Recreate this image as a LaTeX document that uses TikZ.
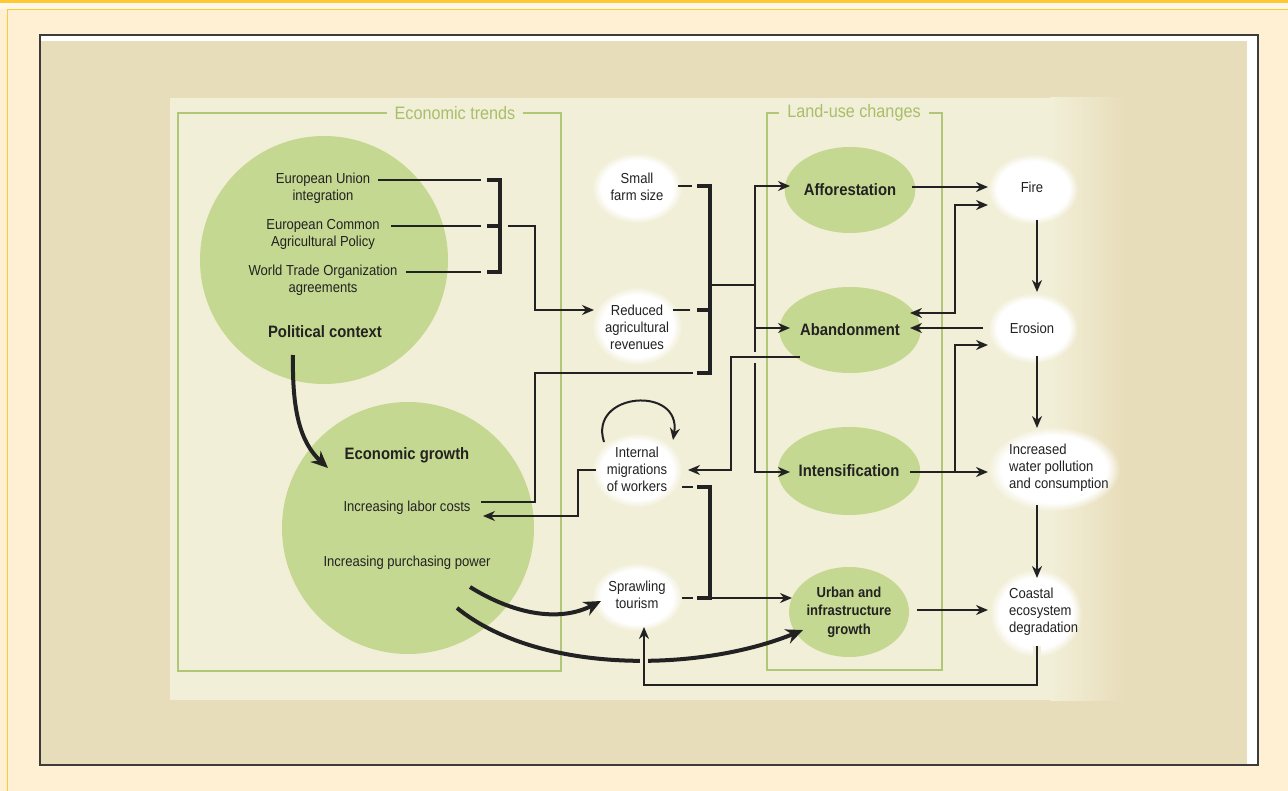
\documentclass[tikz,border=0pt]{standalone}
\usepackage{fontspec}
\setmainfont{Liberation Sans}[FakeStretch=0.9]
\usetikzlibrary{arrows.meta,shapes.geometric,fadings}
\definecolor{barY}{HTML}{FFC933}
\definecolor{panel}{HTML}{FFF0D3}
\definecolor{panelhi}{HTML}{FFF8EA}
\definecolor{tanbg}{HTML}{E8DDBA}
\definecolor{innerbg}{HTML}{F2EFD8}
\definecolor{gfill}{HTML}{C5D891}
\definecolor{gline}{HTML}{B2C678}
\definecolor{ghdr}{HTML}{A8BE69}
\definecolor{ink}{HTML}{222222}
\definecolor{frameC}{HTML}{3C3C3C}
\begin{document}
\begin{tikzpicture}[x=1pt,y=-1pt,
  txt/.style={font=\fontsize{14.5}{17}\selectfont, text=ink, align=center, inner sep=0pt},
  txtl/.style={txt, align=left},
  bld/.style={font=\bfseries\fontsize{16.5}{18.5}\selectfont, text=ink, align=center, inner sep=0pt},
  bldsm/.style={font=\bfseries\fontsize{14.5}{18.5}\selectfont, text=ink, align=center, inner sep=0pt},
  gcirc/.style={circle, fill=gfill, inner sep=0pt},
  gell/.style={ellipse, fill=gfill, inner sep=0pt, minimum width=114pt, minimum height=86pt},
  hdr/.style={font=\fontsize{18}{20}\selectfont, text=ghdr, fill=innerbg, inner xsep=8pt, inner ysep=2pt},
  gbox/.style={draw=gline, line width=1.5pt},
  blob/.style={ellipse, fill=white, path fading=circle with fuzzy edge 20 percent, inner sep=0pt},
  ln/.style={draw=ink, line width=2pt},
  arr/.style={ln, -{Stealth[length=12pt,width=10pt]}},
  darr/.style={ln, {Stealth[length=12pt,width=10pt]}-{Stealth[length=12pt,width=10pt]}},
  brk/.style={draw=ink, line width=4.5pt},
  bigarr/.style={draw=ink, line width=4pt, -{Stealth[length=17pt,width=15pt]}},
]
\useasboundingbox (0,0) rectangle (1288,791);
% page background
\fill[panel] (0,0) rectangle (1288,791);
\fill[panelhi] (0,3.5) rectangle (1288,9);
\fill[barY] (0,0) rectangle (1288,3.5);
\draw[barY, line width=1.3pt] (7.5,791) -- (7.5,9.5) -- (1288,9.5);
% frame
\fill[white] (40,35) rectangle (1258,765);
\fill[tanbg] (41,41) rectangle (1247,764);
\draw[frameC, line width=1.6pt] (40,35) rectangle (1258,765);
% inner diagram panel
\fill[innerbg] (170,98) rectangle (1050,700);
\shade[left color=innerbg, right color=tanbg] (1050,98) rectangle (1125,700);

% green circles
\node[gcirc, minimum size=248pt] (pcC) at (324,260) {};
\node[gcirc, minimum size=252pt] (egC) at (408,528) {};

% group boxes
\draw[gbox] (178,113) rectangle (561,671);
\node[hdr] (et) at (455,113) {Economic trends};
\draw[gbox] (767,113) rectangle (942,670);
\node[hdr] (lu) at (854,113) {Land-use changes};

% land-use ellipses
\node[gell, bld] (aff) at (850,190) {Afforestation};
\node[gell, bld] (aban) at (850,330) {Abandonment};
\node[gell, bld, minimum width=110pt, minimum height=88pt] (inten) at (849,471) {Intensification};
\node[gell, bldsm, minimum width=110pt, minimum height=90pt] (urb) at (849,612) {Urban and\\infrastructure\\growth};

% white blobs
\node[blob, minimum width=90pt, minimum height=70pt] (smallB) at (637,188) {};
\node[blob, minimum width=90pt, minimum height=78pt] (redB) at (637,326) {};
\node[blob, minimum width=90pt, minimum height=74pt] (migB) at (637,470) {};
\node[blob, minimum width=90pt, minimum height=68pt] (sprB) at (637,597) {};
\node[blob, minimum width=90pt, minimum height=70pt] (fireB) at (1033,189) {};
\node[blob, minimum width=90pt, minimum height=70pt] (eroB) at (1033,328) {};
\node[blob, minimum width=132pt, minimum height=84pt] (watB) at (1054,469) {};
\node[blob, minimum width=92pt, minimum height=88pt] (coaB) at (1036,613) {};

% texts
\node[txt] (eu) at (323,188) {European Union\\integration};
\node[txt] (cap) at (323,234) {European Common\\Agricultural Policy};
\node[txt] (wto) at (323,280) {World Trade Organization\\agreements};
\node[bld] (pc) at (325,332) {Political context};
\node[bld] (eg) at (407,455) {Economic growth};
\node[txt] (labor) at (407,508) {Increasing labor costs};
\node[txt] (purch) at (407,563) {Increasing purchasing power};
\node[txt] (small) at (637,187) {Small\\farm size};
\node[txt] (red) at (637,327) {Reduced\\agricultural\\revenues};
\node[txt] (mig) at (637,469) {Internal\\migrations\\of workers};
\node[txt] (spr) at (637,595) {Sprawling\\tourism};
\node[txt] (fire) at (1032,187) {Fire};
\node[txt] (ero) at (1032,328) {Erosion};
\node[txtl, anchor=west] (wat) at (1009,468) {Increased\\water pollution\\and consumption};
\node[txtl, anchor=west] (coa) at (1009,612) {Coastal\\ecosystem\\degradation};

% connector end points
\coordinate (euE) at (378,180);
\coordinate (capE) at (391,226);
\coordinate (wtoE) at (406,272);
\coordinate (br1out) at (508,226);
\coordinate (redIn) at (594,310);
\coordinate (smallE) at (678,186);
\coordinate (redE) at (673,310);
\coordinate (laborE) at (481,502);
\coordinate (br2out) at (710,285);
\coordinate (trunk) at (755,285);
\coordinate (affIn) at (790,186);
\coordinate (abanIn) at (790,328);
\coordinate (intIn) at (790,472);
\coordinate (abanOut) at (800,357);
\coordinate (migIn) at (688,470);
\coordinate (migOut) at (596,470);
\coordinate (laborIn) at (483,516);
\coordinate (migE) at (682,487);
\coordinate (sprE) at (682,598);
\coordinate (br3out) at (710,598);
\coordinate (urbIn) at (792,598);
\coordinate (pcOut) at (293,355);
\coordinate (egIn) at (328,468);
\coordinate (ppOut1) at (470,587);
\coordinate (sprIn) at (601,601);
\coordinate (ppOut2) at (457,608);
\coordinate (urbIn2) at (803,630);
\coordinate (affOut) at (912,187);
\coordinate (fireIn) at (988,187);
\coordinate (fireOut) at (1037,220);
\coordinate (eroIn) at (1037,292);
\coordinate (abanE) at (910,313);
\coordinate (fireIn2) at (988,205);
\coordinate (eroOut) at (983,328);
\coordinate (abanIn2) at (910,328);
\coordinate (intOut) at (910,472);
\coordinate (watIn) at (988,472);
\coordinate (eroIn2) at (988,345);
\coordinate (eroOut2) at (1037,356);
\coordinate (watIn2) at (1037,428);
\coordinate (watOut) at (1037,505);
\coordinate (coaIn) at (1037,578);
\coordinate (urbOut) at (917,610);
\coordinate (coaIn2) at (988,610);
\coordinate (coaOut) at (1037,646);
\coordinate (sprIn2) at (644,627);

% left bracket
\draw[ln] (euE) -- (481,180);
\draw[ln] (capE) -- (481,226);
\draw[ln] (wtoE) -- (481,272);
\draw[brk] (487,180) -- (500,180) -- (500,272) -- (487,272);
\draw[brk] (487,226) -- (500,226);
\draw[arr] (br1out) -- (535,226) |- (redIn);

% middle bracket
\draw[ln] (smallE) -- (692,186);
\draw[ln] (redE) -- (690,310);
\draw[ln] (laborE) -| (535,373) -- (693,373);
\draw[brk] (697,186) -- (710,186) -- (710,373) -- (697,373);
\draw[brk] (697,310) -- (710,310);
\draw[ln] (br2out) -- (trunk);
\draw[arr] (trunk) |- (affIn);
\draw[arr] (trunk |- abanIn) -- (abanIn);
\draw[ln] (trunk) -- (755,352);
\draw[arr] (755,363) |- (intIn);
\draw[arr] (abanOut) -| (731,470) -- (migIn);
\draw[arr] (migOut) -| (578,516) -- (laborIn);
\draw[arr] (604,442) .. controls (588,392) and (682,385) .. (673,440);

% lower bracket
\draw[ln] (migE) -- (693,487);
\draw[ln] (sprE) -- (693,598);
\draw[brk] (697,487) -- (710,487) -- (710,598) -- (697,598);
\draw[arr] (br3out) -- (urbIn);

% thick curved arrows
\draw[bigarr] (pcOut) .. controls (292,410) and (300,442) .. (egIn);
\draw[bigarr] (ppOut1) .. controls (515,615) and (560,622) .. (sprIn);
\draw[bigarr] (ppOut2) .. controls (540,675) and (700,672) .. (urbIn2);

% right column
\draw[arr] (affOut) -- (fireIn);
\draw[arr] (fireOut) -- (eroIn);
\draw[darr] (abanE) -| (955,205) -- (fireIn2);
\draw[arr] (eroOut) -- (abanIn2);
\draw[arr] (intOut) -- (watIn);
\draw[arr] (955,472) |- (eroIn2);
\draw[arr] (eroOut2) -- (watIn2);
\draw[arr] (watOut) -- (coaIn);
\draw[arr] (urbOut) -- (coaIn2);
\draw[arr, preaction={draw=innerbg, line width=8pt, -, shorten >=14pt}] (coaOut) |- (644,685) -- (sprIn2);
\end{tikzpicture}
\end{document}
